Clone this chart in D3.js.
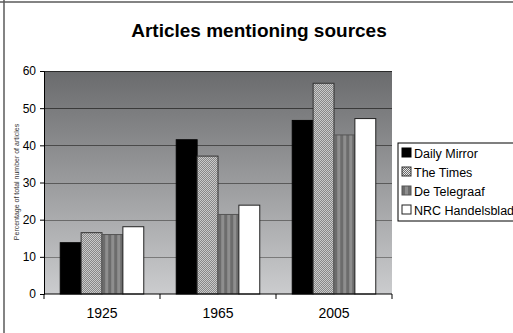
<!DOCTYPE html>
<html>
<head>
<meta charset="utf-8">
<script src="https://cdn.jsdelivr.net/npm/d3@7"></script>
<style>
body { margin: 0; background: #fff; }
text { font-family: "Liberation Sans", Arial, sans-serif; }
</style>
</head>
<body>
<svg id="chart" width="513" height="333"></svg>
<script>
var years = ["1925", "1965", "2005"];
var papers = ["Daily Mirror", "The Times", "De Telegraaf", "NRC Handelsblad"];
var dailyMirror = [13.8, 41.5, 46.7];
var theTimes = [16.5, 37.1, 56.7];
var deTelegraaf = [16.0, 21.4, 42.8];
var nrc = [18.1, 23.9, 47.2];
var yTicks = [0, 10, 20, 30, 40, 50, 60];

var series = [dailyMirror, theTimes, deTelegraaf, nrc];

var svg = d3.select("#chart"),
  width = +svg.attr("width"),
  height = +svg.attr("height");

var margin = {top: 71, right: 121, bottom: 39, left: 44};
var plotW = width - margin.left - margin.right,
  plotH = height - margin.top - margin.bottom;

var defs = svg.append("defs");

// background gradient of the plot area
var grad = defs.append("linearGradient")
  .attr("id", "bg").attr("x1", 0).attr("y1", 0).attr("x2", 0).attr("y2", 1);
grad.append("stop").attr("offset", "0%").attr("stop-color", "#6a6b6d");
grad.append("stop").attr("offset", "100%").attr("stop-color", "#cbccce");

// fine checker for The Times
var chk = defs.append("pattern").attr("id", "hatch")
  .attr("width", 2).attr("height", 2).attr("patternUnits", "userSpaceOnUse");
chk.append("rect").attr("width", 2).attr("height", 2).attr("fill", "#e8e8e8");
chk.append("rect").attr("width", 1).attr("height", 1).attr("fill", "#6a6a6a");
chk.append("rect").attr("x", 1).attr("y", 1).attr("width", 1).attr("height", 1).attr("fill", "#6a6a6a");

// vertical stripes for De Telegraaf
var str = defs.append("pattern").attr("id", "stripes")
  .attr("width", 6).attr("height", 6).attr("patternUnits", "userSpaceOnUse");
str.append("rect").attr("width", 6).attr("height", 6).attr("fill", "#6c6c6c");
str.append("rect").attr("x", 3).attr("width", 3).attr("height", 6).attr("fill", "#8e8e8e");

var fills = ["#000", "url(#hatch)", "url(#stripes)", "#fff"];
var strokes = ["#000", "#333", "#555", "#222"];

// page border (top and left)
svg.append("line").attr("x1", 0).attr("x2", width).attr("y1", 2).attr("y2", 2)
  .attr("stroke", "#5a5a5a").attr("stroke-width", 1.5);
svg.append("line").attr("x1", 4).attr("x2", 4).attr("y1", 0).attr("y2", height)
  .attr("stroke", "#5a5a5a").attr("stroke-width", 1.5);

// title
svg.append("text")
  .attr("x", 259).attr("y", 37)
  .attr("text-anchor", "middle")
  .style("font-size", "19px").style("font-weight", "bold")
  .text("Articles mentioning sources");

var g = svg.append("g").attr("transform", "translate(" + margin.left + "," + margin.top + ")");

var x0 = d3.scaleBand().domain(years).range([0, plotW]).paddingInner(0.28).paddingOuter(0.14);
var x1 = d3.scaleBand().domain(papers).range([0, x0.bandwidth()]);
var y = d3.scaleLinear().domain([0, 60]).range([plotH, 0]);

g.append("rect").attr("width", plotW).attr("height", plotH).attr("fill", "url(#bg)");

// grid lines, darker near the top
var gridColor = d3.scaleLinear().domain([10, 60]).range(["#7a7a7a", "#2a2a2a"]);
g.selectAll(".grid")
  .data(yTicks.filter(d => d > 0))
  .enter().append("line")
  .attr("x1", 0).attr("x2", plotW)
  .attr("y1", d => Math.round(y(d)) + 0.5).attr("y2", d => Math.round(y(d)) + 0.5)
  .attr("stroke", d => gridColor(d));

// bars
var rows = years.map((yr, i) => papers.map((p, j) => ({year: yr, paper: p, j: j, value: series[j][i]})));
g.selectAll(".grp")
  .data(rows)
  .enter().append("g")
  .attr("transform", d => "translate(" + x0(d[0].year) + ",0)")
  .selectAll("rect")
  .data(d => d)
  .enter().append("rect")
  .attr("x", d => x1(d.paper))
  .attr("y", d => y(d.value))
  .attr("width", x1.bandwidth())
  .attr("height", d => plotH - y(d.value))
  .attr("fill", d => fills[d.j])
  .attr("stroke", d => strokes[d.j])
  .attr("stroke-width", 1);

// y axis
var yAxis = g.append("g").call(d3.axisLeft(y).tickValues(yTicks).tickSize(4).tickPadding(4));
yAxis.attr("font-size", null).attr("font-family", null);
yAxis.select(".domain").attr("stroke", "#000");
yAxis.selectAll("text").style("font-size", "12px").attr("fill", "#000");

// x axis with ticks between groups
var xAxis = g.append("g").attr("transform", "translate(0," + plotH + ")");
xAxis.append("line").attr("x1", 0).attr("x2", plotW).attr("stroke", "#000");
xAxis.selectAll(".tk")
  .data(d3.range(years.length + 1))
  .enter().append("line")
  .attr("x1", d => d * plotW / years.length).attr("x2", d => d * plotW / years.length)
  .attr("y1", 0).attr("y2", 5).attr("stroke", "#000");
xAxis.selectAll(".lbl")
  .data(years)
  .enter().append("text")
  .attr("x", d => x0(d) + x0.bandwidth() / 2)
  .attr("y", 24)
  .attr("text-anchor", "middle")
  .style("font-size", "14px")
  .text(d => d);

// y axis title
svg.append("text")
  .attr("transform", "translate(19,182) rotate(-90)")
  .attr("text-anchor", "middle")
  .attr("fill", "#333")
  .style("font-size", "7px")
  .text("Percentage of total number of articles");

// legend
var leg = svg.append("g").attr("transform", "translate(398,143)");
leg.append("rect").attr("width", 116).attr("height", 78)
  .attr("fill", "#fff").attr("stroke", "#000");
var items = leg.selectAll(".item")
  .data(papers)
  .enter().append("g")
  .attr("transform", (d, i) => "translate(4," + (5 + i * 19) + ")");
items.append("rect")
  .attr("width", 9).attr("height", 9)
  .attr("fill", (d, i) => fills[i])
  .attr("stroke", (d, i) => strokes[i]);
items.append("text")
  .attr("x", 12).attr("y", 9.5)
  .style("font-size", "12.5px")
  .text(d => d);
</script>
</body>
</html>
